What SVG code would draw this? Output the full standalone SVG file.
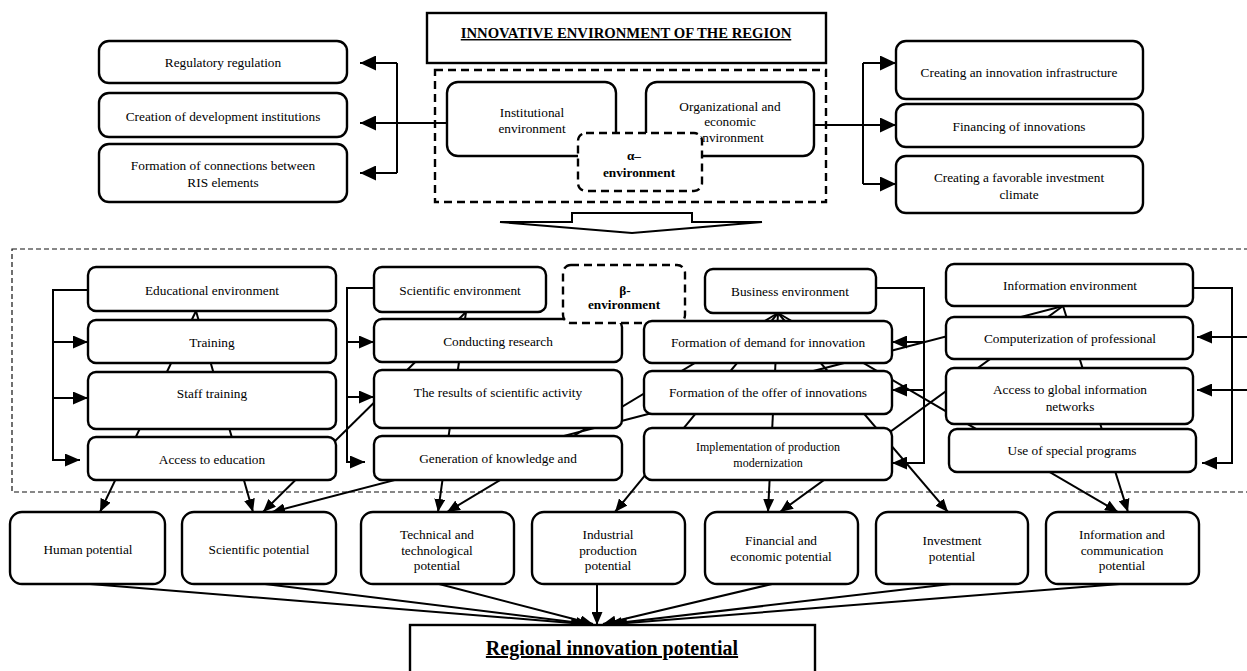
<svg xmlns="http://www.w3.org/2000/svg" width="1247" height="671" viewBox="0 0 1247 671">
<defs>
<style>
.t{font-family:"Liberation Serif","Times New Roman",serif;font-size:13.3px;text-anchor:middle;fill:#000}
.s{font-size:12px}
.b{font-weight:bold}
.box{fill:#fff;stroke:#000;stroke-width:2.4}
.dbox{fill:#fff;stroke:#000;stroke-width:2.4;stroke-dasharray:8,5}
.ln{fill:none;stroke:#000;stroke-width:2}
.a1{marker-end:url(#big)}
.a2{marker-end:url(#mid)}
.a3{marker-end:url(#sm)}
</style>
<marker id="big" viewBox="0 0 16 15" refX="16" refY="7.5" markerWidth="16" markerHeight="15" orient="auto" markerUnits="userSpaceOnUse"><path d="M0,0 L16,7.5 L0,15 z"/></marker>
<marker id="mid" viewBox="0 0 15 13" refX="15" refY="6.5" markerWidth="15" markerHeight="13" orient="auto" markerUnits="userSpaceOnUse"><path d="M0,0 L15,6.5 L0,13 z"/></marker>
<marker id="sm" viewBox="0 0 13 11" refX="13" refY="5.5" markerWidth="13" markerHeight="11" orient="auto" markerUnits="userSpaceOnUse"><path d="M0,0 L13,5.5 L0,11 z"/></marker>
</defs>
<rect width="1247" height="671" fill="#fff"/>

<g id="beta-frame">
<rect x="12" y="249" width="1250" height="243" fill="none" stroke="#111" stroke-width="1.2" stroke-dasharray="5,3"/>
</g>

<g id="connectors">
<path class="ln a1" d="M447,123 H360"/>
<path class="ln" d="M397,63 V173"/>
<path class="ln a1" d="M397,63 H360"/>
<path class="ln a1" d="M397,173 H360"/>
<path class="ln a1" d="M814,125 H896"/>
<path class="ln" d="M863,63 V184"/>
<path class="ln a1" d="M863,63 H896"/>
<path class="ln a1" d="M863,184 H896"/>
<path class="ln a2" d="M88,290 H53 V460 H80"/>
<path class="ln a2" d="M53,342 H88"/>
<path class="ln a2" d="M53,398 H88"/>
<path class="ln a2" d="M374,288 H347 V462 H365"/>
<path class="ln a2" d="M347,342 H374"/>
<path class="ln a2" d="M347,397 H374"/>
<path class="ln a2" d="M876,288 H924 V463 H892"/>
<path class="ln a2" d="M924,342 H892"/>
<path class="ln a2" d="M924,390 H892"/>
<path class="ln a2" d="M1193,288 H1232 V463 H1202"/>
<path class="ln a2" d="M1247,337 H1197"/>
<path class="ln a2" d="M1247,390 H1197"/>
<path class="ln a3" d="M196,311 L100,512"/>
<path class="ln a3" d="M196,311 L253,512"/>
<path class="ln a3" d="M466,312 L263,512"/>
<path class="ln a3" d="M466,312 L438,512"/>
<path class="ln a3" d="M778,313 L447,512"/>
<path class="ln a3" d="M778,313 L615,512"/>
<path class="ln a3" d="M778,313 L768,512"/>
<path class="ln a3" d="M778,313 L948,512"/>
<path class="ln a3" d="M778,313 L1118,512"/>
<path class="ln a3" d="M1063,306 L272,512"/>
<path class="ln a3" d="M1063,306 L780,512"/>
<path class="ln a3" d="M1063,306 L1128,512"/>
<path class="ln a3" d="M90,584 L584,624"/>
<path class="ln a3" d="M265,584 L589,624"/>
<path class="ln a3" d="M439,584 L593,624"/>
<path class="ln a3" d="M597,584 L597,625"/>
<path class="ln a3" d="M772,584 L603,624"/>
<path class="ln a3" d="M951,584 L609,624"/>
<path class="ln a3" d="M1120,584 L614,624"/>
</g>

<g id="title">
<rect x="427" y="13" width="399" height="50" class="box"/>
<text x="626" y="38" class="t b" style="font-size:14.7px;text-decoration:underline">INNOVATIVE ENVIRONMENT OF THE REGION</text>
</g>
<g id="alpha-frame"><rect x="435" y="70" width="391" height="132" fill="none" stroke="#000" stroke-width="2.4" stroke-dasharray="8,5"/></g>
<g id="institutional">
<rect x="447" y="82" width="169" height="74" rx="11" class="box"/>
<text x="532" y="117" class="t">Institutional</text>
<text x="532" y="133" class="t">environment</text>
</g>
<g id="organizational">
<rect x="646" y="82" width="168" height="74" rx="11" class="box"/>
<text x="730" y="111" class="t">Organizational and</text>
<text x="730" y="126" class="t">economic</text>
<text x="730" y="142" class="t">environment</text>
</g>
<g id="alpha">
<rect x="578" y="133" width="124" height="58" rx="8" class="dbox"/>
<text x="634" y="160" class="t b">α–</text>
<text x="639" y="177" class="t b">environment</text>
</g>
<g id="down-arrow">
<polygon points="572,222 572,213 692,213 692,222 762,222 632,233 500,222" fill="#fff" stroke="#000" stroke-width="2"/>
</g>

<g id="regulatory"><rect x="99" y="41" width="248" height="42" rx="10" class="box"/><text x="223" y="67" class="t">Regulatory regulation</text></g>
<g id="institutions"><rect x="99" y="93" width="248" height="44" rx="10" class="box"/><text x="223" y="121" class="t">Creation of development institutions</text></g>
<g id="connections"><rect x="99" y="144" width="248" height="58" rx="10" class="box"/><text x="223" y="170" class="t">Formation of connections between</text><text x="223" y="187" class="t">RIS elements</text></g>

<g id="infrastructure"><rect x="896" y="41" width="247" height="58" rx="10" class="box"/><text x="1019" y="77" class="t">Creating an innovation infrastructure</text></g>
<g id="financing"><rect x="896" y="104" width="247" height="43" rx="10" class="box"/><text x="1019" y="131" class="t">Financing of innovations</text></g>
<g id="climate"><rect x="896" y="156" width="247" height="57" rx="10" class="box"/><text x="1019" y="182" class="t">Creating a favorable investment</text><text x="1019" y="199" class="t">climate</text></g>

<g id="educational"><rect x="88" y="267" width="248" height="44" rx="8" class="box"/><text x="212" y="295" class="t">Educational environment</text></g>
<g id="training"><rect x="88" y="320" width="248" height="43" rx="8" class="box"/><text x="212" y="347" class="t">Training</text></g>
<g id="staff"><rect x="88" y="372" width="248" height="57" rx="8" class="box"/><text x="212" y="398" class="t">Staff training</text></g>
<g id="access-edu"><rect x="88" y="437" width="248" height="43" rx="8" class="box"/><text x="212" y="464" class="t">Access to education</text></g>

<g id="scientific"><rect x="374" y="267" width="172" height="45" rx="8" class="box"/><text x="460" y="295" class="t">Scientific environment</text></g>
<g id="research"><rect x="374" y="319" width="248" height="43" rx="8" class="box"/><text x="498" y="346" class="t">Conducting research</text></g>
<g id="results"><rect x="374" y="370" width="248" height="58" rx="8" class="box"/><text x="498" y="397" class="t">The results of scientific activity</text></g>
<g id="generation"><rect x="374" y="436" width="248" height="44" rx="8" class="box"/><text x="498" y="463" class="t">Generation of knowledge and</text></g>
<g id="beta">
<rect x="563" y="265" width="122" height="58" rx="8" class="dbox"/>
<text x="625" y="295" class="t b">β-</text>
<text x="624" y="309" class="t b">environment</text>
</g>

<g id="business"><rect x="705" y="269" width="171" height="44" rx="8" class="box"/><text x="790" y="296" class="t">Business environment</text></g>
<g id="demand"><rect x="644" y="321" width="248" height="42" rx="8" class="box"/><text x="768" y="347" class="t">Formation of demand for innovation</text></g>
<g id="offer"><rect x="644" y="371" width="248" height="43" rx="8" class="box"/><text x="768" y="397" class="t">Formation of the offer of innovations</text></g>
<g id="modernization"><rect x="644" y="428" width="248" height="52" rx="8" class="box"/><text x="768" y="451" class="t s">Implementation of production</text><text x="768" y="467" class="t s">modernization</text></g>

<g id="information"><rect x="946" y="264" width="247" height="42" rx="8" class="box"/><text x="1070" y="290" class="t">Information environment</text></g>
<g id="computerization"><rect x="946" y="317" width="247" height="42" rx="8" class="box"/><text x="1070" y="343" class="t">Computerization of professional</text></g>
<g id="global"><rect x="946" y="368" width="247" height="56" rx="8" class="box"/><text x="1070" y="394" class="t">Access to global information</text><text x="1070" y="411" class="t">networks</text></g>
<g id="programs"><rect x="949" y="429" width="247" height="43" rx="8" class="box"/><text x="1072" y="455" class="t">Use of special programs</text></g>

<g id="human"><rect x="10" y="512" width="155" height="72" rx="12" class="box"/><text x="88" y="554" class="t">Human potential</text></g>
<g id="sci-pot"><rect x="182" y="512" width="154" height="72" rx="12" class="box"/><text x="259" y="554" class="t">Scientific potential</text></g>
<g id="tech-pot"><rect x="361" y="512" width="153" height="72" rx="12" class="box"/><text x="437" y="539" class="t">Technical and</text><text x="437" y="555" class="t">technological</text><text x="437" y="570" class="t">potential</text></g>
<g id="ind-pot"><rect x="532" y="512" width="153" height="72" rx="12" class="box"/><text x="608" y="539" class="t">Industrial</text><text x="608" y="555" class="t">production</text><text x="608" y="570" class="t">potential</text></g>
<g id="fin-pot"><rect x="705" y="512" width="153" height="72" rx="12" class="box"/><text x="781" y="545" class="t">Financial and</text><text x="781" y="561" class="t">economic potential</text></g>
<g id="inv-pot"><rect x="876" y="512" width="152" height="72" rx="12" class="box"/><text x="952" y="545" class="t">Investment</text><text x="952" y="561" class="t">potential</text></g>
<g id="ict-pot"><rect x="1046" y="512" width="153" height="72" rx="12" class="box"/><text x="1122" y="539" class="t">Information and</text><text x="1122" y="555" class="t">communication</text><text x="1122" y="570" class="t">potential</text></g>

<g id="regional"><rect x="410" y="625" width="405" height="60" fill="#fff" stroke="#000" stroke-width="2.4"/><text x="612" y="655" class="t b" style="font-size:20px;text-decoration:underline">Regional innovation potential</text></g>
</svg>
